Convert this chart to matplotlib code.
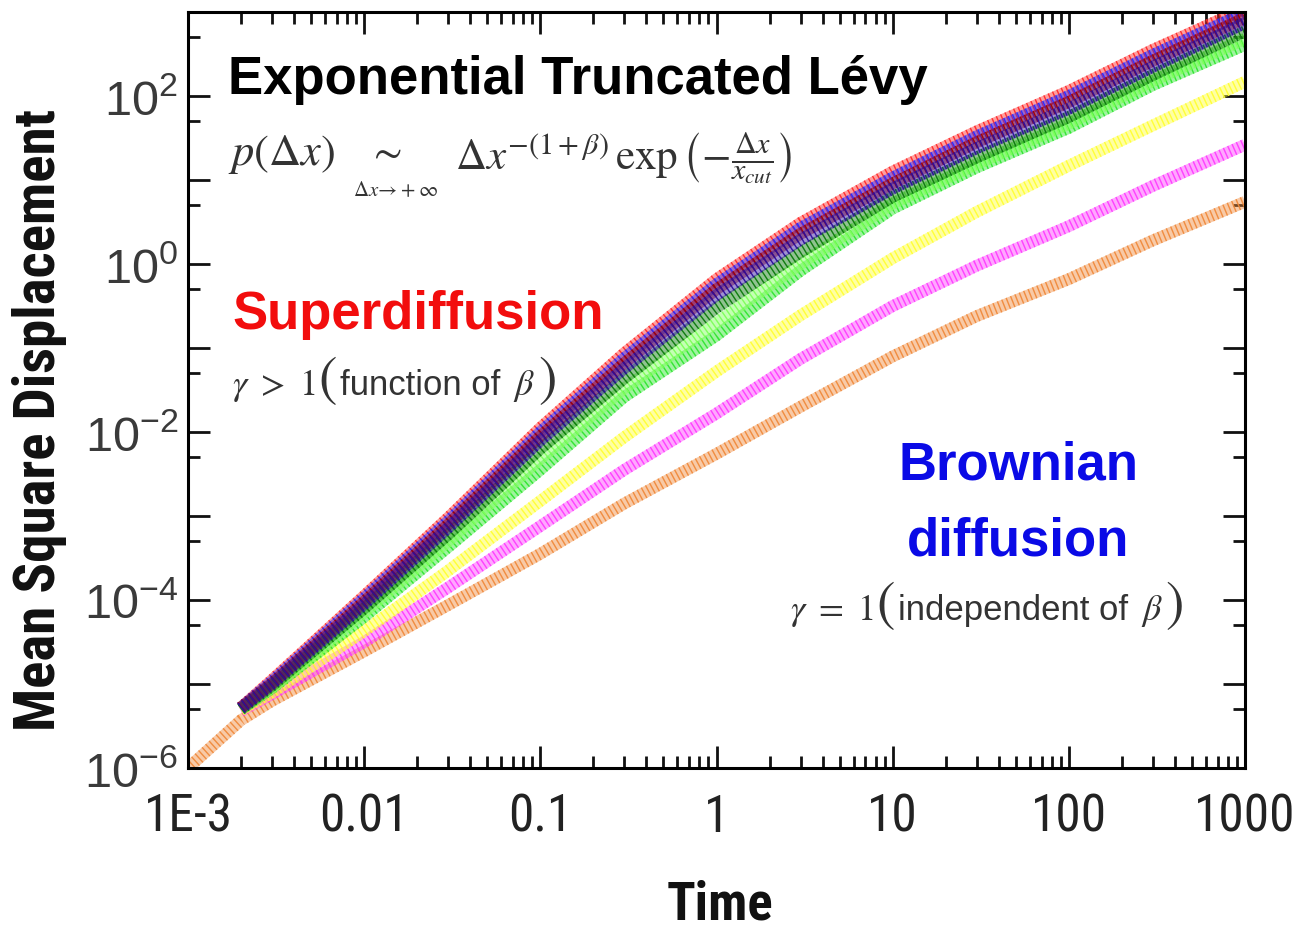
import numpy as np
import matplotlib
matplotlib.use("Agg")
import matplotlib.pyplot as plt
from matplotlib import font_manager as fm
from matplotlib.ticker import FixedLocator, FuncFormatter, NullFormatter, LogLocator
from matplotlib.offsetbox import TextArea, HPacker, AnnotationBbox

# ---------------------------------------------------------------------
# Data (time vs. mean square displacement)
# ---------------------------------------------------------------------
t_main = [0.002, 0.003, 0.01, 0.03, 0.1, 0.3, 1, 3, 10, 30, 100, 300, 1000]
t_orange = [0.001, 0.002, 0.003, 0.01, 0.03, 0.1, 0.3, 1, 3, 10, 30, 100, 300, 1000]

msd_red = [5.25e-6, 1.12e-5, 1.12e-4, 9.55e-4, 0.0112, 0.0871, 0.661, 3.09, 12.6, 38.0, 115, 355, 1100]
msd_blue = [5.25e-6, 1.07e-5, 1.05e-4, 8.71e-4, 0.0100, 0.0759, 0.575, 2.69, 10.7, 33.1, 100, 309, 977]
msd_darkred = [5.25e-6, 1.02e-5, 9.55e-5, 7.94e-4, 8.91e-3, 0.0661, 0.501, 2.29, 9.12, 28.2, 85.1, 263, 851]
msd_navy = [5.13e-6, 1.0e-5, 8.91e-5, 7.24e-4, 7.94e-3, 0.0575, 0.427, 1.95, 7.94, 24.0, 70.8, 224, 741]
msd_darkgreen = [5.01e-6, 9.55e-6, 7.94e-5, 6.03e-4, 6.31e-3, 0.0437, 0.302, 1.38, 6.31, 18.6, 56.2, 178, 589]
msd_lightgreen = [5.01e-6, 9.12e-6, 7.08e-5, 5.01e-4, 4.79e-3, 0.0331, 0.200, 1.0, 5.25, 15.5, 46.8, 151, 479]
msd_green = [5.01e-6, 8.91e-6, 6.31e-5, 4.27e-4, 3.55e-3, 0.0263, 0.141, 0.832, 4.57, 14.1, 41.7, 135, 407]
msd_yellow = [4.9e-6, 7.94e-6, 4.27e-5, 2.24e-4, 1.51e-3, 8.71e-3, 0.0525, 0.245, 1.17, 4.17, 14.8, 44.7, 148]
msd_magenta = [4.79e-6, 7.59e-6, 3.16e-5, 1.41e-4, 7.59e-4, 3.55e-3, 0.0166, 0.0741, 0.316, 0.955, 2.82, 8.51, 26.3]
msd_orange = [1.0e-6, 3.72e-6, 6.31e-6, 2.45e-5, 8.71e-5, 3.55e-4, 1.41e-3, 5.5e-3, 0.02, 0.0794, 0.24, 0.661, 1.91, 5.5]

x_ticks = [1e-3, 1e-2, 1e-1, 1, 10, 100, 1000]
x_tick_labels = ["1E-3", "0.01", "0.1", "1", "10", "100", "1000"]
y_major = [1e-6, 1e-5, 1e-4, 1e-3, 1e-2, 1e-1, 1, 10, 100, 1000]
y_minor = [5e-6, 5e-5, 5e-4, 5e-3, 5e-2, 5e-1, 5, 50, 500]
y_labelled = [-6, -4, -2, 0, 2]

# drawn bottom-most first, dark bundle last
series = [
    (t_orange, msd_orange, "#f08a3c"),
    (t_main, msd_magenta, "#ff3cff"),
    (t_main, msd_yellow, "#ffff33"),
    (t_main, msd_green, "#2ee62e"),
    (t_main, msd_lightgreen, "#7dff5a"),
    (t_main, msd_red, "#ff2a2a"),
    (t_main, msd_blue, "#2b2bff"),
    (t_main, msd_darkgreen, "#0a7a0a"),
    (t_main, msd_darkred, "#a00000"),
    (t_main, msd_navy, "#2c0c9c"),
]

# ---------------------------------------------------------------------
# Fonts
# ---------------------------------------------------------------------
entries = fm.fontManager.ttflist
names = {f.name for f in entries}
SANS = "Liberation Sans" if "Liberation Sans" in names else "DejaVu Sans"
NARROW, STRETCH = SANS, "normal"
for cand in ["Liberation Sans Narrow", "Arial Narrow", "Roboto Condensed", "Open Sans Condensed"]:
    if cand in names:
        NARROW = cand
        break
else:
    if any(f.name == "DejaVu Sans" and str(f.stretch) == "condensed" for f in entries):
        NARROW, STRETCH = "DejaVu Sans", "condensed"

plt.rcParams["axes.unicode_minus"] = False
plt.rcParams["mathtext.fontset"] = "custom"
plt.rcParams["mathtext.rm"] = SANS
plt.rcParams["mathtext.it"] = SANS + ":italic"
plt.rcParams["mathtext.bf"] = SANS + ":bold"

W, H = 1301, 931
fig = plt.figure(figsize=(W / 100, H / 100), dpi=100)
ax = fig.add_axes([188 / W, 1 - 768 / H, (1245 - 188) / W, (768 - 12) / H])
ax.set_xscale("log")
ax.set_yscale("log")
ax.set_xlim(1e-3, 1e3)
ax.set_ylim(1e-6, 1e3)


def band(t, y, color):
    # ribbon of hollow circles: light fill + cross hatching
    ax.plot(t, y, color=color, lw=8.5, alpha=0.45, solid_capstyle="butt", solid_joinstyle="round")
    ax.plot(t, y, color=color, lw=8.5, ls=(0, (0.12, 0.28)), alpha=0.95)


for t, y, c in series:
    band(t, y, c)

# ---------------------------------------------------------------------
# Axes styling
# ---------------------------------------------------------------------
for s in ax.spines.values():
    s.set_linewidth(2.2)

ax.xaxis.set_major_locator(FixedLocator(x_ticks))
ax.xaxis.set_major_formatter(FuncFormatter(lambda v, p: x_tick_labels[p] if p is not None and p < len(x_tick_labels) else ""))
ax.xaxis.set_minor_locator(LogLocator(base=10, subs=np.arange(2, 10)))
ax.xaxis.set_minor_formatter(NullFormatter())

ax.yaxis.set_major_locator(FixedLocator(y_major))
ax.yaxis.set_minor_locator(FixedLocator(y_minor))
ax.yaxis.set_minor_formatter(NullFormatter())


def ylab(v, p):
    e = int(round(np.log10(v)))
    return r"$\mathrm{10}^{\mathrm{%d}}$" % e if e in y_labelled else ""


ax.yaxis.set_major_formatter(FuncFormatter(ylab))

ax.tick_params(which="both", direction="in", top=True, right=True, width=2.0, color="#111")
ax.tick_params(which="major", length=16)
ax.tick_params(which="minor", length=8.5)
ax.tick_params(axis="x", which="major", pad=18, labelsize=37, labelcolor="#222")
ax.tick_params(axis="y", which="major", pad=7, labelsize=35, labelcolor="#3a3a3a")
for lb in ax.get_xticklabels():
    lb.set_family(NARROW)
    lb.set_stretch(STRETCH)

# axis titles
fig.text(40 / W, 1 - 420 / H, "Mean Square Displacement", rotation=90, ha="center", va="center",
         fontsize=41, fontweight="bold", family=NARROW, stretch=STRETCH, color="#111")
fig.text(720 / W, 1 - 905 / H, "Time", ha="center", va="center",
         fontsize=38, fontweight="bold", family=NARROW, stretch=STRETCH, color="#111")

# ---------------------------------------------------------------------
# Annotations
# ---------------------------------------------------------------------
fig.text(228 / W, 1 - 80 / H, "Exponential Truncated Lévy", ha="left", va="center",
         fontsize=38, fontweight="bold", family=SANS, color="black")

gray = "#333333"
fig.text(228 / W, 1 - 155 / H, r"$p(\Delta x)$", ha="left", va="center",
         fontsize=32, color=gray, math_fontfamily="stix")
fig.text(384 / W, 1 - 152 / H, r"$\sim$", ha="center", va="center",
         fontsize=30, color=gray, math_fontfamily="stix")
fig.text(395 / W, 1 - 190 / H, r"$\Delta x\!\rightarrow\!+\infty$", ha="center", va="center",
         fontsize=15, color=gray, math_fontfamily="stix")
fig.text(455 / W, 1 - 158 / H, r"$\Delta x^{-(1+\beta)}\,\exp\left(-\frac{\Delta x}{x_{cut}}\right)$",
         ha="left", va="center", fontsize=31, color=gray, math_fontfamily="stix")

fig.text(232 / W, 1 - 315 / H, "Superdiffusion", ha="left", va="center",
         fontsize=38, fontweight="bold", family=SANS, color="#f20d0d")
fig.text(1018 / W, 1 - 465 / H, "Brownian", ha="center", va="center",
         fontsize=38, fontweight="bold", family=SANS, color="#0a0ae6")
fig.text(1018 / W, 1 - 542 / H, "diffusion", ha="center", va="center",
         fontsize=38, fontweight="bold", family=SANS, color="#0a0ae6")


def gamma_row(rel, words, x, y):
    mp = dict(fontsize=26, color=gray, math_fontfamily="stix")
    pp = dict(fontsize=40, color=gray, math_fontfamily="stix")
    wp = dict(fontsize=25, color=gray, family=SANS)
    parts = [TextArea(r"$\gamma\ %s\ 1$" % rel, textprops=mp),
             TextArea(r"$($", textprops=pp),
             TextArea(words, textprops=wp),
             TextArea(r"$\beta$", textprops=mp),
             TextArea(r"$)$", textprops=pp)]
    pack = HPacker(children=parts, align="baseline", pad=0, sep=2)
    ab = AnnotationBbox(pack, (x, H - y), xycoords="figure pixels", box_alignment=(0, 0.5),
                        frameon=False, pad=0)
    fig.add_artist(ab)


gamma_row(">", "function of ", 232, 380)
gamma_row("=", "independent of ", 790, 605)

fig.savefig("out.png", dpi=100)
